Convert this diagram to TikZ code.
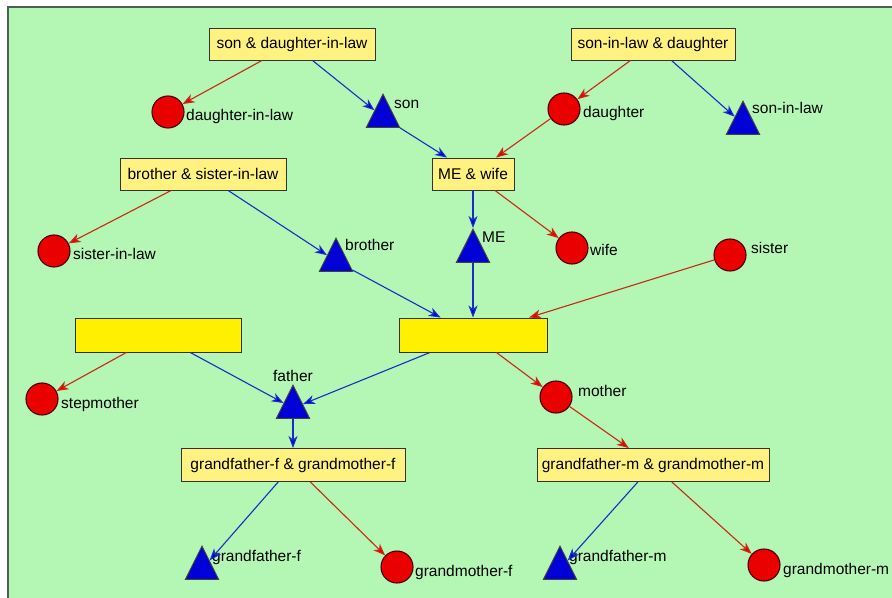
\documentclass[tikz,border=0pt]{standalone}
\usepackage{fontspec}
\setmainfont{Liberation Sans}
\usetikzlibrary{shapes.geometric,arrows.meta}
\definecolor{bg}{RGB}{180,246,180}
\definecolor{boxy}{RGB}{255,242,128}
\definecolor{boxY}{RGB}{255,240,0}
\definecolor{eblue}{RGB}{25,45,200}
\definecolor{ered}{RGB}{200,40,20}
\definecolor{tblue}{RGB}{0,0,215}
\definecolor{cred}{RGB}{235,0,0}
\definecolor{framec}{RGB}{80,95,85}
\begin{document}
\begin{tikzpicture}[x=1bp,y=-1bp,
  font=\fontsize{15.5bp}{18bp}\selectfont,
  famb/.style={draw=black!80, fill=boxy, line width=0.9bp, minimum height=32bp, inner sep=2bp},
  blankb/.style={draw=black!80, fill=boxY, line width=0.9bp, minimum height=34bp},
  fem/.style={circle, draw=black!70!red, fill=cred, line width=1.1bp, minimum size=32bp, inner sep=0pt},
  mal/.style={isosceles triangle, isosceles triangle stretches, shape border rotate=90,
    minimum width=33bp, minimum height=33bp, inner sep=0pt, draw=black!75, fill=tblue,
    line width=1bp, anchor=apex},
  lbl/.style={anchor=west, inner sep=0pt, text height=11bp, text depth=3bp},
  bl/.style={draw=eblue, line width=1.1bp, -{Stealth[length=12bp,width=9bp,inset=3.5bp,fill=tblue]}},
  rl/.style={draw=ered, line width=1.1bp, -{Stealth[length=12bp,width=9bp,inset=3.5bp,fill=cred]}},
]
\useasboundingbox (0,0) rectangle (892,598);
\fill[white] (0,0) rectangle (892,598);
\fill[bg] (8,7) rectangle (892,598);
\draw[framec, line width=1.5bp] (8,598) -- (8,7) -- (892,7);

% family boxes
\node[famb, minimum width=166bp] (sdil) at (292,44) {son \& daughter-in-law};
\node[famb, minimum width=164bp] (sild) at (653,44) {son-in-law \& daughter};
\node[famb, minimum width=166bp] (bsil) at (203,174) {brother \& sister-in-law};
\node[famb, minimum width=82bp] (mew) at (473,174) {ME \& wife};
\node[blankb, minimum width=166bp] (blL) at (158,335) {};
\node[blankb, minimum width=148bp] (blR) at (473,335) {};
\node[famb, minimum width=224bp, minimum height=33bp] (gffb) at (293,465) {grandfather-f \& grandmother-f};
\node[famb, minimum width=232bp, minimum height=33bp] (gfmb) at (653,465) {grandfather-m \& grandmother-m};

% females
\node[fem] (dil) at (168,112) {};
\node[fem] (dau) at (564,109) {};
\node[fem] (sil) at (54,251) {};
\node[fem] (wife) at (572,248) {};
\node[fem] (sis) at (730,255) {};
\node[fem] (step) at (42,399) {};
\node[fem] (mom) at (556,397) {};
\node[fem] (gmf) at (397,567) {};
\node[fem] (gmm) at (764,565) {};

% males
\node[mal] (son) at (383,93) {};
\node[mal] (sonil) at (743,100) {};
\node[mal] (bro) at (336,237) {};
\node[mal] (me) at (473,228) {};
\node[mal] (fat) at (293,384) {};
\node[mal] (gf) at (202,545) {};
\node[mal] (gm) at (560,545) {};

% labels
\node[lbl] (ldil) at (186,117) {daughter-in-law};
\node[lbl] (lson) at (394,105) {son};
\node[lbl] (ldau) at (583,114) {daughter};
\node[lbl] (lsonil) at (752,110) {son-in-law};
\node[lbl] (lsil) at (73,256) {sister-in-law};
\node[lbl] (lbro) at (345,247) {brother};
\node[lbl] (lme) at (482,239) {ME};
\node[lbl] (lwife) at (590,252) {wife};
\node[lbl] (lsis) at (751,250) {sister};
\node[lbl] (lstep) at (61,404) {stepmother};
\node[lbl, anchor=center] (lfat) at (293,377) {father};
\node[lbl] (lmom) at (578,392) {mother};
\node[lbl] (lgf) at (212,557) {grandfather-f};
\node[lbl] (lgmf) at (415,572) {grandmother-f};
\node[lbl] (lgm) at (569,557) {grandfather-m};
\node[lbl] (lgmm) at (783,570) {grandmother-m};

% connectors
\draw[rl] (sdil) -- (dil);
\draw[bl] (sdil) -- (son);
\draw[bl] (son) -- (mew);
\draw[rl] (sild) -- (dau);
\draw[bl] (sild) -- (sonil);
\draw[rl] (dau) -- (mew);
\draw[rl] (bsil) -- (sil);
\draw[bl] (bsil) -- (bro);
\draw[bl] (bro) -- (blR);
\draw[bl] (mew) -- (me);
\draw[rl] (mew) -- (wife);
\draw[bl] (me) -- (blR);
\draw[rl] (sis) -- (blR);
\draw[rl] (blL) -- (step);
\draw[bl] (blL) -- (fat);
\draw[bl] (blR) -- (fat);
\draw[rl] (blR) -- (mom);
\draw[bl] (fat) -- (gffb);
\draw[rl] (mom) -- (gfmb);
\draw[bl] (gffb) -- (gf);
\draw[rl] (gffb) -- (gmf);
\draw[bl] (gfmb) -- (gm);
\draw[rl] (gfmb) -- (gmm);
\end{tikzpicture}
\end{document}
